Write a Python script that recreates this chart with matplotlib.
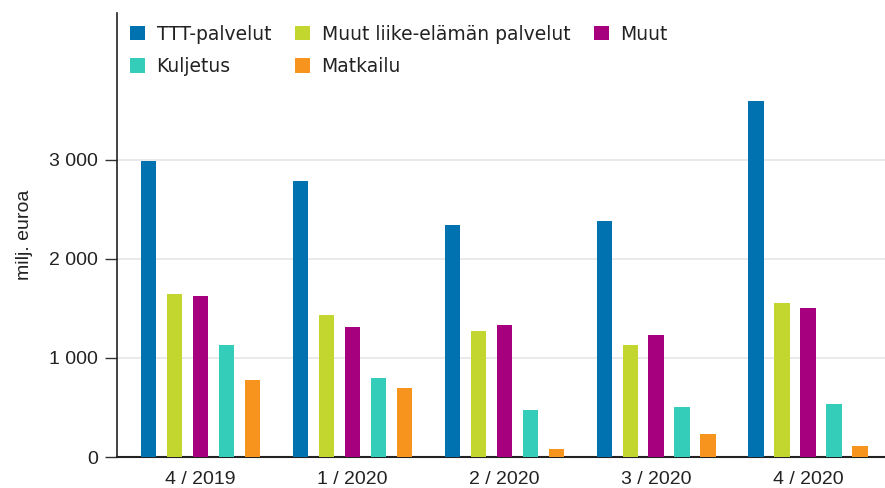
import numpy as np
import matplotlib
matplotlib.use("Agg")
import matplotlib.pyplot as plt
from matplotlib.ticker import FuncFormatter

# Quarters and service categories (milj. euroa)
QUARTERS = ["4 / 2019", "1 / 2020", "2 / 2020", "3 / 2020", "4 / 2020"]
TTT = [2985, 2786, 2345, 2376, 3591]
MUUT_LIIKE = [1648, 1429, 1271, 1133, 1554]
MUUT = [1628, 1311, 1328, 1230, 1500]
KULJETUS = [1126, 796, 470, 503, 530]
MATKAILU = [773, 699, 83, 234, 116]

SERIES = [
    ("TTT-palvelut", TTT, "#0072b0"),
    ("Muut liike-elämän palvelut", MUUT_LIIKE, "#c3d62f"),
    ("Muut", MUUT, "#a6007f"),
    ("Kuljetus", KULJETUS, "#33cdb9"),
    ("Matkailu", MATKAILU, "#f7941d"),
]

plt.rcParams["font.family"] = ["Liberation Sans", "DejaVu Sans"]

fig = plt.figure(figsize=(8.85, 4.88), dpi=100)
ax = fig.add_axes([0.1322, 0.0635, 0.8678, 0.91])

x = np.arange(len(QUARTERS))
pitch = 0.171
width = 0.102
bars = {}
for i, (name, vals, color) in enumerate(SERIES):
    offs = (i - 2) * pitch
    bars[name] = ax.bar(x + offs, vals, width, color=color, label=name, zorder=3)

ax.set_xlim(-0.55, 4.506)
ax.set_ylim(0, 4480)
ax.set_yticks([0, 1000, 2000, 3000])
ax.yaxis.set_major_formatter(FuncFormatter(lambda v, p: f"{int(v):,}".replace(",", " ")))
ax.set_xticks(x)
ax.set_xticklabels(QUARTERS)
ax.tick_params(axis="x", length=0, labelsize=14, pad=10, labelcolor="#222222")
ax.tick_params(axis="y", length=8.6, width=1, color="#333333", labelsize=14, pad=5,
               labelcolor="#222222")

ax.grid(axis="y", color="#e6e6e6", lw=1.2, zorder=0)
ax.spines["top"].set_visible(False)
ax.spines["right"].set_visible(False)
ax.spines["left"].set_color("#222222")
ax.spines["bottom"].set_color("#222222")
ax.spines["bottom"].set_linewidth(1.5)
ax.spines["left"].set_linewidth(1.2)

ax.set_ylabel("milj. euroa", fontsize=14, labelpad=12, color="#222222")

order = ["TTT-palvelut", "Kuljetus", "Muut liike-elämän palvelut", "Matkailu", "Muut"]
leg = ax.legend([bars[n] for n in order], order, ncol=3, frameon=False,
                loc="upper left", bbox_to_anchor=(-0.008, 1.016),
                prop={"family": "DejaVu Sans", "size": 13.5},
                handlelength=0.8, handleheight=0.8, handletextpad=0.64,
                columnspacing=1.25, labelspacing=0.72, borderpad=0.5)
for t in leg.get_texts():
    t.set_color("#222222")

fig.savefig("out.png", dpi=100)
